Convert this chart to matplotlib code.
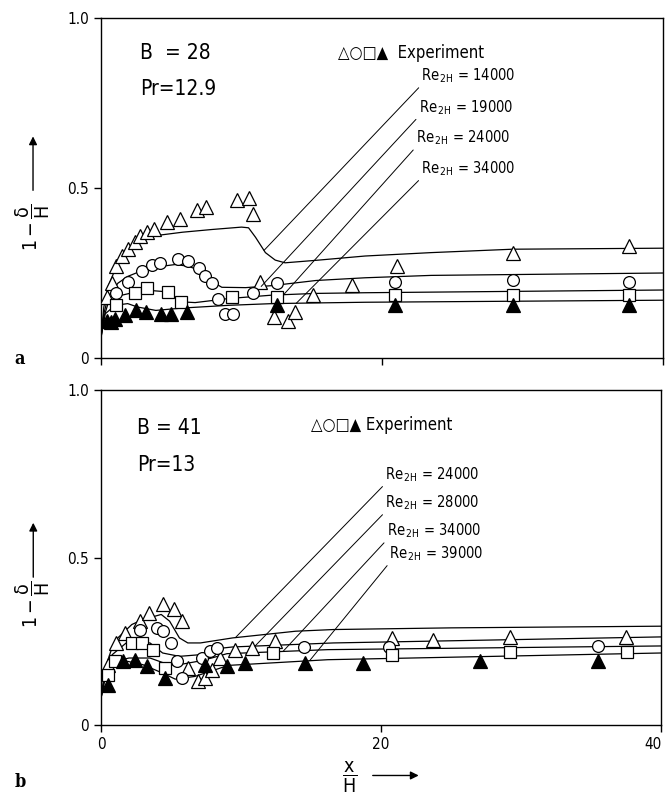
import numpy as np
import matplotlib
matplotlib.use("Agg")
import matplotlib.pyplot as plt
import matplotlib.transforms as mtransforms

plt.rcParams['font.family'] = ['Liberation Sans Narrow', 'DejaVu Sans']
plt.rcParams['font.stretch'] = 'condensed'
plt.rcParams['mathtext.fontset'] = 'dejavusans'

# ---- panel a : B = 28, Pr = 12.9 ----
a_tri_x = [0.4, 0.8, 1.1, 1.5, 1.9, 2.4, 2.8, 3.3, 3.8, 4.7, 5.6, 6.8, 7.5, 9.7, 10.5, 10.8,
           11.3, 12.3, 13.3, 13.8, 15.1, 17.9, 21.1, 29.3, 37.6]
a_tri_y = [0.18, 0.22, 0.27, 0.30, 0.32, 0.34, 0.36, 0.37, 0.38, 0.40, 0.41, 0.435, 0.445, 0.465,
           0.47, 0.425, 0.225, 0.12, 0.11, 0.135, 0.185, 0.215, 0.27, 0.31, 0.33]
a_cir_x = [1.1, 1.9, 2.9, 3.6, 4.2, 5.5, 6.2, 7.0, 7.4, 7.9, 8.3, 8.8, 9.4, 10.8, 12.5, 20.9, 29.3, 37.6]
a_cir_y = [0.19, 0.225, 0.255, 0.275, 0.28, 0.29, 0.285, 0.265, 0.24, 0.22, 0.175, 0.13, 0.13,
           0.19, 0.22, 0.225, 0.23, 0.225]
a_sq_x = [1.1, 2.4, 3.3, 4.8, 5.7, 9.3, 12.5, 20.9, 29.3, 37.6]
a_sq_y = [0.155, 0.19, 0.205, 0.195, 0.165, 0.18, 0.18, 0.185, 0.185, 0.185]
a_ftri_x = [0.4, 0.7, 1.0, 1.7, 2.5, 3.2, 4.3, 5.0, 6.1, 12.5, 20.9, 29.3, 37.6]
a_ftri_y = [0.11, 0.107, 0.115, 0.127, 0.14, 0.135, 0.13, 0.13, 0.135, 0.155, 0.155, 0.155, 0.155]

a_c1_x = [0, 0.2, 0.5, 1.2, 2.2, 3.9, 5.8, 7.9, 10.0, 10.5, 11.0, 11.7, 12.4, 13.1, 15.5, 18.8, 23.5, 29.3, 40]
a_c1_y = [0.06, 0.15, 0.21, 0.28, 0.33, 0.36, 0.37, 0.378, 0.385, 0.383, 0.355, 0.31, 0.288, 0.28,
          0.288, 0.30, 0.31, 0.32, 0.323]
a_c2_x = [0, 0.2, 0.5, 1.2, 1.9, 3.4, 5.3, 6.2, 7.2, 7.9, 8.6, 10.3, 12.2, 15.3, 18.8, 23.5, 40]
a_c2_y = [0.06, 0.13, 0.18, 0.22, 0.24, 0.265, 0.275, 0.27, 0.255, 0.225, 0.208, 0.207, 0.213,
          0.228, 0.236, 0.243, 0.25]
a_c3_x = [0, 0.2, 0.5, 1.5, 3.1, 4.6, 5.8, 6.7, 9.1, 12.2, 15.3, 18.8, 40]
a_c3_y = [0.06, 0.12, 0.16, 0.185, 0.2, 0.195, 0.165, 0.163, 0.175, 0.185, 0.19, 0.192, 0.2]
a_c4_x = [0, 0.3, 1.0, 1.9, 2.6, 3.9, 5.8, 9.1, 12.2, 15.3, 18.8, 40]
a_c4_y = [0.06, 0.13, 0.155, 0.16, 0.15, 0.14, 0.147, 0.155, 0.16, 0.162, 0.164, 0.17]
a_labels = ['14000', '19000', '24000', '34000']
a_lead_x = [11.6, 11.4, 13.0, 13.9]
a_text_xy = [(22.8, 0.803), (22.6, 0.71), (22.4, 0.62), (22.8, 0.53)]

# ---- panel b : B = 41, Pr = 13 ----
b_tri_x = [0.5, 1.1, 1.7, 2.8, 3.4, 4.4, 5.2, 5.8, 6.2, 6.9, 7.4, 7.9, 8.5, 9.6, 10.8, 12.4,
           20.8, 23.7, 29.2, 37.5]
b_tri_y = [0.18, 0.245, 0.275, 0.31, 0.335, 0.36, 0.345, 0.31, 0.17, 0.13, 0.14, 0.165, 0.20,
           0.225, 0.23, 0.25, 0.26, 0.255, 0.263, 0.263]
b_cir_x = [2.8, 4.0, 4.4, 5.0, 5.4, 5.8, 7.2, 7.8, 8.3, 14.5, 20.6, 35.5]
b_cir_y = [0.285, 0.29, 0.28, 0.245, 0.19, 0.14, 0.2, 0.22, 0.23, 0.233, 0.233, 0.235]
b_sq_x = [0.5, 1.0, 2.2, 2.9, 3.7, 4.6, 12.3, 20.8, 29.2, 37.6]
b_sq_y = [0.15, 0.19, 0.245, 0.245, 0.225, 0.17, 0.215, 0.21, 0.218, 0.218]
b_ftri_x = [0.5, 1.6, 2.4, 3.3, 4.6, 7.4, 9.0, 10.3, 14.6, 18.7, 27.1, 35.5]
b_ftri_y = [0.12, 0.19, 0.195, 0.175, 0.14, 0.18, 0.175, 0.185, 0.185, 0.185, 0.19, 0.19]

b_c1_x = [0, 0.3, 0.7, 1.2, 2.2, 3.0, 4.3, 4.9, 5.6, 6.2, 7.1, 9.4, 13.9, 16.6, 25, 40]
b_c1_y = [0.08, 0.17, 0.22, 0.26, 0.30, 0.315, 0.33, 0.31, 0.26, 0.245, 0.245, 0.26, 0.28, 0.285, 0.29, 0.295]
b_c2_x = [0, 0.3, 0.8, 1.8, 3.5, 4.4, 5.6, 7.1, 8.3, 9.4, 16.6, 40]
b_c2_y = [0.08, 0.16, 0.21, 0.245, 0.245, 0.215, 0.205, 0.21, 0.228, 0.233, 0.245, 0.263]
b_c3_x = [0, 0.3, 1.0, 2.0, 3.5, 4.5, 5.3, 6.9, 7.9, 9.0, 16.2, 40]
b_c3_y = [0.08, 0.15, 0.19, 0.20, 0.20, 0.185, 0.178, 0.19, 0.20, 0.213, 0.225, 0.236]
b_c4_x = [0, 0.3, 1.0, 1.9, 3.0, 4.4, 5.3, 6.7, 9.1, 16.2, 40]
b_c4_y = [0.08, 0.14, 0.18, 0.19, 0.18, 0.155, 0.137, 0.145, 0.178, 0.195, 0.215]
b_labels = ['24000', '28000', '34000', '39000']
b_lead_x = [9.6, 11.0, 13.0, 14.9]
b_text_xy = [(20.3, 0.72), (20.3, 0.636), (20.4, 0.552), (20.6, 0.484)]

fig = plt.figure(figsize=(6.69, 7.97), dpi=100)
ax1 = fig.add_axes([0.151, 0.5508, 0.840, 0.4266])
ax2 = fig.add_axes([0.151, 0.0903, 0.837, 0.4204])

panels = [
    (ax1, (a_tri_x, a_tri_y), (a_cir_x, a_cir_y), (a_sq_x, a_sq_y), (a_ftri_x, a_ftri_y),
     [(a_c1_x, a_c1_y), (a_c2_x, a_c2_y), (a_c3_x, a_c3_y), (a_c4_x, a_c4_y)],
     a_labels, a_lead_x, a_text_xy),
    (ax2, (b_tri_x, b_tri_y), (b_cir_x, b_cir_y), (b_sq_x, b_sq_y), (b_ftri_x, b_ftri_y),
     [(b_c1_x, b_c1_y), (b_c2_x, b_c2_y), (b_c3_x, b_c3_y), (b_c4_x, b_c4_y)],
     b_labels, b_lead_x, b_text_xy),
]

for ax, tri, cir, sq, ftri, curves, labels, lead_x, text_xy in panels:
    for cx, cy in curves:
        ax.plot(cx, cy, color='k', lw=0.9, zorder=2)
    ax.plot(*tri, ls='none', marker='^', ms=9.5, mfc='white', mec='k', mew=0.9, zorder=3)
    ax.plot(*cir, ls='none', marker='o', ms=8.5, mfc='white', mec='k', mew=0.9, zorder=3)
    ax.plot(*sq, ls='none', marker='s', ms=8, mfc='white', mec='k', mew=0.9, zorder=3)
    ax.plot(*ftri, ls='none', marker='^', ms=9.5, mfc='k', mec='k', mew=0.9, zorder=3)
    for (cx, cy), lab, lx, (tx, ty) in zip(curves, labels, lead_x, text_xy):
        ly = np.interp(lx, cx, cy)
        ax.annotate(r'Re$_{\,\mathregular{2H}}$ = ' + lab, xy=(lx, ly), xytext=(tx, ty),
                    fontsize=10.5, ha='left', va='bottom',
                    arrowprops=dict(arrowstyle='-', lw=0.7, color='k',
                                    shrinkA=0, shrinkB=0, relpos=(0, 0)))
    ax.set_xlim(0, 40)
    ax.set_ylim(0, 1.0)
    ax.set_yticks([0, 0.5, 1.0])
    ax.set_yticklabels(['0', '0.5', '1.0'])
    ax.set_xticks([0, 20, 40])
    ax.tick_params(direction='out', length=5, width=1, labelsize=11)
    for sp in ax.spines.values():
        sp.set_linewidth(1.0)

ax1.set_xticklabels([])
ax2.set_xticklabels(['0', '20', '40'])
last = ax2.get_xticklabels()[-1]
last.set_transform(last.get_transform() +
                   mtransforms.ScaledTranslation(-6 / 72, 0, fig.dpi_scale_trans))

ax1.text(2.8, 0.897, 'B  = 28', fontsize=15, va='center')
ax1.text(2.8, 0.79, 'Pr=12.9', fontsize=15, va='center')
ax1.text(16.9, 0.897, '△○□▲  Experiment', fontsize=12, va='center')
ax2.text(2.6, 0.887, 'B = 41', fontsize=15, va='center')
ax2.text(2.6, 0.776, 'Pr=13', fontsize=15, va='center')
ax2.text(15.0, 0.895, '△○□▲ Experiment', fontsize=12, va='center')

# y labels with arrows
for ax, ty, a0, a1 in [(ax1, 0.385, 0.485, 0.66), (ax2, 0.36, 0.433, 0.612)]:
    ax.text(-0.121, ty, r'$\mathregular{1-\dfrac{\delta}{H}}$', transform=ax.transAxes,
            rotation=90, ha='center', va='center', fontsize=14)
    ax.annotate('', xy=(-0.121, a1), xytext=(-0.121, a0), xycoords='axes fraction',
                arrowprops=dict(arrowstyle='-|>', lw=1, color='k', mutation_scale=12),
                annotation_clip=False)

# x label with arrow
fig.text(0.523, 0.025, r'$\mathregular{\dfrac{x}{H}}$', ha='center', va='center', fontsize=14)
fig.patches.append(matplotlib.patches.FancyArrowPatch(
    (0.553, 0.027), (0.630, 0.027), transform=fig.transFigure, arrowstyle='-|>',
    mutation_scale=12, lw=1, color='k'))

fig.text(0.022, 0.550, 'a', family='DejaVu Serif', fontweight='bold', fontsize=13, va='center')
fig.text(0.022, 0.019, 'b', family='DejaVu Serif', fontweight='bold', fontsize=13, va='center')

fig.savefig('out.png', dpi=100)
